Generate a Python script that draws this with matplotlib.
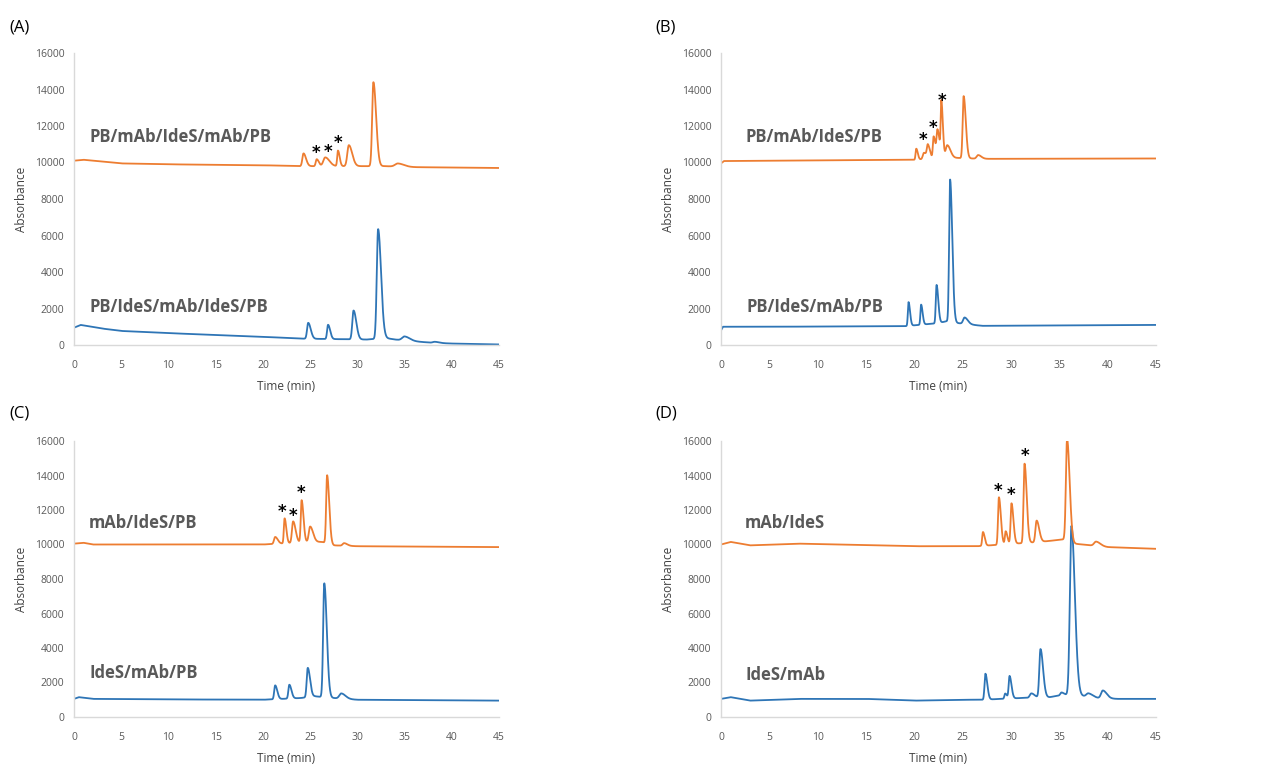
import numpy as np
import matplotlib
matplotlib.use('Agg')
import matplotlib.pyplot as plt

plt.rcParams['font.family'] = ['Open Sans', 'DejaVu Sans']

ORANGE = '#ED7D31'
BLUE = '#2E75B6'
GRAY = '#595959'

# ---- panel A ----
a_or_base_t = [0, 1, 3, 5, 10, 20, 24, 30, 33, 35, 45]
a_or_base_v = [10100, 10150, 10050, 9950, 9900, 9850, 9800, 9800, 9800, 9750, 9700]
a_or_peak_t = [24.3, 25.7, 26.6, 27.95, 29.1, 31.7, 34.3]
a_or_peak_h = [700, 380, 480, 850, 1150, 4600, 180]
a_or_peak_w = [0.12, 0.10, 0.20, 0.08, 0.16, 0.13, 0.30]

a_bl_base_t = [0, 0.7, 3, 5, 10, 15, 20, 24, 28, 31, 33, 34, 36, 38, 40, 45]
a_bl_base_v = [950, 1100, 900, 770, 650, 550, 450, 350, 320, 300, 380, 300, 200, 120, 80, 30]
a_bl_peak_t = [24.8, 26.9, 29.6, 32.2, 35.0, 38.2]
a_bl_peak_h = [870, 780, 1580, 6000, 220, 60]
a_bl_peak_w = [0.12, 0.10, 0.13, 0.14, 0.25, 0.2]

a_star_t = [25.6, 26.9, 28.0]
a_star_v = [10500, 10580, 11050]

# ---- panel B ----
b_or_base_t = [0, 0.3, 5, 20, 23, 24.5, 27, 45]
b_or_base_v = [9950, 10080, 10100, 10150, 10250, 10250, 10200, 10220]
b_or_peak_t = [20.2, 21.0, 21.4, 22.0, 22.4, 22.8, 23.4, 25.1, 26.6]
b_or_peak_h = [600, 350, 700, 1200, 1500, 2900, 700, 3400, 200]
b_or_peak_w = [0.07, 0.12, 0.10, 0.08, 0.10, 0.07, 0.15, 0.10, 0.15]

b_bl_base_t = [0, 0.2, 5, 19, 22.5, 23.3, 24.5, 27, 45]
b_bl_base_v = [800, 1000, 1000, 1030, 1200, 1300, 1200, 1050, 1100]
b_bl_peak_t = [19.4, 20.7, 22.3, 23.7, 25.2]
b_bl_peak_h = [1300, 1100, 2100, 7800, 350]
b_bl_peak_w = [0.07, 0.07, 0.08, 0.10, 0.15]

b_star_t = [20.9, 21.9, 22.85]
b_star_v = [11240, 11900, 13380]

# ---- panel C ----
c_or_base_t = [0, 1, 2, 10, 20, 25.3, 26.3, 27.5, 30, 45]
c_or_base_v = [10050, 10100, 10000, 10000, 10000, 10150, 10150, 9950, 9900, 9850]
c_or_peak_t = [21.3, 22.3, 23.2, 24.1, 25.0, 26.8, 28.6]
c_or_peak_h = [400, 1450, 1250, 2450, 900, 3950, 150]
c_or_peak_w = [0.12, 0.08, 0.12, 0.09, 0.14, 0.10, 0.15]

c_bl_base_t = [0, 0.5, 2, 10, 20, 24, 25.5, 27.5, 30, 45]
c_bl_base_v = [1050, 1150, 1050, 1020, 1000, 1100, 1200, 1100, 1000, 950]
c_bl_peak_t = [21.3, 22.8, 24.75, 26.5, 28.3]
c_bl_peak_h = [800, 800, 1700, 6600, 300]
c_bl_peak_w = [0.10, 0.10, 0.11, 0.12, 0.2]

c_star_t = [22.0, 23.2, 24.05]
c_star_v = [11900, 11680, 12970]

# ---- panel D ----
d_or_base_t = [0, 1, 3, 8, 20, 26.5, 33, 35.5, 36.5, 40, 45]
d_or_base_v = [10000, 10150, 9950, 10050, 9900, 9900, 10150, 10300, 10050, 9850, 9750]
d_or_peak_t = [27.1, 28.75, 29.45, 30.05, 31.4, 32.65, 35.8, 38.8]
d_or_peak_h = [800, 2750, 750, 2350, 4600, 1250, 5900, 250]
d_or_peak_w = [0.08, 0.09, 0.08, 0.09, 0.10, 0.12, 0.12, 0.2]

d_bl_base_t = [0, 1, 3, 8, 15, 20, 25, 27, 31, 34, 35.5, 37, 39, 41, 45]
d_bl_base_v = [1050, 1150, 950, 1050, 1050, 950, 1000, 1000, 1100, 1150, 1300, 1250, 1100, 1050, 1050]
d_bl_peak_t = [27.35, 29.4, 29.85, 32.1, 33.05, 35.2, 36.25, 38.0, 39.5]
d_bl_peak_h = [1500, 300, 1300, 250, 2800, 150, 9800, 200, 450]
d_bl_peak_w = [0.09, 0.08, 0.09, 0.15, 0.12, 0.1, 0.16, 0.2, 0.18]

d_star_t = [28.7, 30.0, 31.4]
d_star_v = [13100, 12880, 15140]

labels = {
    'A': ('PB/mAb/IdeS/mAb/PB', 'PB/IdeS/mAb/IdeS/PB'),
    'B': ('PB/mAb/IdeS/PB', 'PB/IdeS/mAb/PB'),
    'C': ('mAb/IdeS/PB', 'IdeS/mAb/PB'),
    'D': ('mAb/IdeS', 'IdeS/mAb'),
}
label_pos = {
    'A': ((1.6, 11400), (1.6, 2080)),
    'B': ((2.5, 11400), (2.6, 2080)),
    'C': ((1.6, 11250), (1.6, 2550)),
    'D': ((2.5, 11250), (2.5, 2430)),
}

t = np.linspace(0, 45, 3001)


def trace(bt, bv, pt, ph, pw):
    y = np.interp(t, bt, bv)
    for p, h, w in zip(pt, ph, pw):
        s = np.where(t < p, w, w * 2.2)  # tailing on the right side
        y = y + h * np.exp(-0.5 * ((t - p) / s) ** 2)
    return y


panels = {
    'A': ((a_or_base_t, a_or_base_v, a_or_peak_t, a_or_peak_h, a_or_peak_w),
          (a_bl_base_t, a_bl_base_v, a_bl_peak_t, a_bl_peak_h, a_bl_peak_w),
          (a_star_t, a_star_v)),
    'B': ((b_or_base_t, b_or_base_v, b_or_peak_t, b_or_peak_h, b_or_peak_w),
          (b_bl_base_t, b_bl_base_v, b_bl_peak_t, b_bl_peak_h, b_bl_peak_w),
          (b_star_t, b_star_v)),
    'C': ((c_or_base_t, c_or_base_v, c_or_peak_t, c_or_peak_h, c_or_peak_w),
          (c_bl_base_t, c_bl_base_v, c_bl_peak_t, c_bl_peak_h, c_bl_peak_w),
          (c_star_t, c_star_v)),
    'D': ((d_or_base_t, d_or_base_v, d_or_peak_t, d_or_peak_h, d_or_peak_w),
          (d_bl_base_t, d_bl_base_v, d_bl_peak_t, d_bl_peak_h, d_bl_peak_w),
          (d_star_t, d_star_v)),
}

W, H = 1262, 769
# axes boxes in pixels: left, top, right, bottom
boxes = {
    'A': (74, 53, 499, 345),
    'B': (721, 53, 1156, 345),
    'C': (74, 441, 499, 717),
    'D': (721, 441, 1156, 717),
}
tag_pos = {'A': (9, 28), 'B': (655, 28), 'C': (9, 413), 'D': (655, 413)}

fig = plt.figure(figsize=(W / 100, H / 100), dpi=100)

for key, (orange, blue, stars) in panels.items():
    l, tp, r, b = boxes[key]
    ax = fig.add_axes([l / W, 1 - b / H, (r - l) / W, (b - tp) / H])
    ax.plot(t, trace(*blue), color=BLUE, lw=1.3)
    ax.plot(t, trace(*orange), color=ORANGE, lw=1.3)
    for st, sv in zip(*stars):
        ax.text(st, sv, '*', ha='center', va='center', fontsize=12,
                fontweight='bold', color='black', family='DejaVu Sans')
    (ox, oy), (bx, by) = label_pos[key]
    ax.text(ox, oy, labels[key][0], fontsize=12, fontweight='bold', color=GRAY, va='center')
    ax.text(bx, by, labels[key][1], fontsize=12, fontweight='bold', color=GRAY, va='center')

    ax.set_xlim(0, 45)
    ax.set_ylim(0, 16000)
    ax.set_xticks(np.arange(0, 46, 5))
    ax.set_yticks(np.arange(0, 16001, 2000))
    ax.tick_params(length=0, labelsize=7.5, labelcolor=GRAY)
    ax.tick_params(axis='x', pad=10.5)
    ax.tick_params(axis='y', pad=7)
    for s in ['top', 'right']:
        ax.spines[s].set_visible(False)
    for s in ['left', 'bottom']:
        ax.spines[s].set_color('#d9d9d9')
        ax.spines[s].set_linewidth(1)
    ax.set_xlabel('Time (min)', fontsize=8.5, color='#404040', labelpad=7)
    ax.set_ylabel('Absorbance', fontsize=8.5, color='#404040', labelpad=5)

    fig.text(tag_pos[key][0] / W, 1 - tag_pos[key][1] / H, '(' + key + ')',
             fontsize=12, color='black', va='center')

fig.savefig('out.png', dpi=100)
